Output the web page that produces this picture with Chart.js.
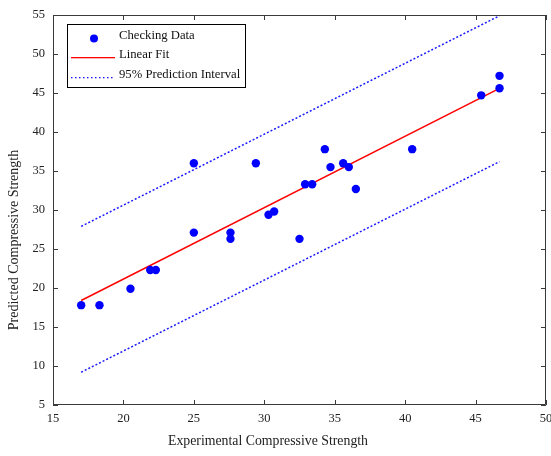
<!DOCTYPE html>
<html>
<head>
<meta charset="utf-8">
<script src="https://cdn.jsdelivr.net/npm/chart.js@4"></script>
<style>
html,body{margin:0;padding:0;background:#fff;}
#wrap{width:551px;height:456px;position:relative;}
</style>
</head>
<body>
<div id="wrap"><canvas id="c" width="551" height="456"></canvas></div>
<script>
// Checking data (experimental, predicted)
const expX = [17.0, 18.3, 20.5, 21.9, 22.3, 25.0, 25.0, 27.6, 27.6, 29.4, 30.3, 30.7, 32.5, 32.9, 33.4, 34.3, 34.7, 35.6, 36.0, 36.5, 40.5, 45.4, 46.7, 46.7];
const predY = [17.8, 17.8, 19.9, 22.3, 22.3, 36.0, 27.1, 27.1, 26.3, 36.0, 29.4, 29.8, 26.3, 33.3, 33.3, 37.8, 35.5, 36.0, 35.5, 32.7, 37.8, 44.7, 45.6, 47.2];
// Linear fit endpoints
const fitX = [17.0, 46.7];
const fitY = [18.4, 45.6];
// 95% prediction interval
const piX = [17.0, 46.7];
const piUpper = [27.9, 54.9];
const piLower = [9.2, 36.2];
const xTicks = [15, 20, 25, 30, 35, 40, 45, 50];
const yTicks = [5, 10, 15, 20, 25, 30, 35, 40, 45, 50, 55];

const labels = ['Checking Data', 'Linear Fit', '95% Prediction Interval'];
const xTitle = 'Experimental Compressive Strength';
const yTitle = 'Predicted Compressive Strength';
const FONT = '"Liberation Serif", "Times New Roman", serif';
const AXC = '#3a3a3a';
const C_PTS = '#0000ff', C_FIT = '#ff0000', C_PI = '#1a1aff';

const toXY = (xs, ys) => xs.map((x, i) => ({x: x, y: ys[i]}));

const boxTicks = {
  id: 'boxTicks',
  afterDraw(chart) {
    const ctx = chart.ctx, a = chart.chartArea;
    const xs = chart.scales.x, ys = chart.scales.y;
    ctx.save();
    ctx.strokeStyle = AXC;
    ctx.lineWidth = 1;
    ctx.beginPath();
    ctx.rect(a.left + 0.5, a.top + 0.5, a.right - a.left - 1, a.bottom - a.top - 1);
    ctx.stroke();
    const L = 5;
    ctx.beginPath();
    xTicks.forEach(v => {
      const p = Math.round(xs.getPixelForValue(v)) + 0.5;
      ctx.moveTo(p, a.bottom); ctx.lineTo(p, a.bottom - L);
      ctx.moveTo(p, a.top); ctx.lineTo(p, a.top + L);
    });
    yTicks.forEach(v => {
      const p = Math.round(ys.getPixelForValue(v)) + 0.5;
      ctx.moveTo(a.left, p); ctx.lineTo(a.left + L, p);
      ctx.moveTo(a.right, p); ctx.lineTo(a.right - L, p);
    });
    ctx.stroke();

    // axis titles
    ctx.fillStyle = '#222';
    ctx.font = '13.8px ' + FONT;
    ctx.textAlign = 'center';
    ctx.textBaseline = 'middle';
    ctx.fillText(xTitle, 268, 441);
    ctx.save();
    ctx.translate(14, 240);
    ctx.rotate(-Math.PI / 2);
    ctx.font = '14px ' + FONT;
    ctx.fillText(yTitle, 0, 0);
    ctx.restore();

    // legend box
    const lx = 67.5, ly = 24.5, lw = 178, lh = 63;
    ctx.fillStyle = '#fff';
    ctx.fillRect(lx, ly, lw, lh);
    ctx.strokeStyle = '#000';
    ctx.lineWidth = 1;
    ctx.strokeRect(lx, ly, lw, lh);
    ctx.font = '12.7px ' + FONT;
    ctx.textBaseline = 'middle';
    ctx.textAlign = 'left';
    // row 1: marker
    ctx.beginPath();
    ctx.fillStyle = C_PTS;
    ctx.arc(94, 38.5, 4, 0, Math.PI * 2);
    ctx.fill();
    // row 2: red line
    ctx.fillStyle = C_FIT;
    ctx.fillRect(71, 57, 44, 1.3);
    // row 3: dotted blue line
    ctx.fillStyle = C_PI;
    for (let x = 71; x < 115; x += 4) ctx.fillRect(x, 77, 1.5, 1.3);
    ctx.fillStyle = '#111';
    ctx.fillText(labels[0], 119, 36);
    ctx.fillText(labels[1], 119, 55);
    ctx.fillText(labels[2], 119, 75);
    ctx.restore();
  }
};

new Chart(document.getElementById('c'), {
  type: 'scatter',
  data: {
    datasets: [
      {label: labels[0], data: toXY(expX, predY), backgroundColor: C_PTS, borderColor: C_PTS, pointRadius: 4.2, pointBorderWidth: 0, showLine: false, order: 0},
      {label: labels[1], data: toXY(fitX, fitY), borderColor: C_FIT, borderWidth: 1.5, pointRadius: 0, showLine: true, order: 1},
      {label: labels[2], data: toXY(piX, piUpper), borderColor: C_PI, borderWidth: 1.5, borderDash: [2, 2], pointRadius: 0, showLine: true, order: 2},
      {label: labels[2] + ' ', data: toXY(piX, piLower), borderColor: C_PI, borderWidth: 1.5, borderDash: [2, 2], pointRadius: 0, showLine: true, order: 2}
    ]
  },
  options: {
    responsive: false,
    animation: false,
    devicePixelRatio: 1,
    layout: {padding: {top: 15, right: 5, left: 0, bottom: 0}},
    plugins: {legend: {display: false}, tooltip: {enabled: false}},
    scales: {
      x: {
        type: 'linear', min: 15, max: 50,
        afterBuildTicks: s => { s.ticks = xTicks.map(v => ({value: v})); },
        afterFit: s => { s.height = 51; s.paddingLeft = 0; s.paddingRight = 0; },
        grid: {display: false, drawTicks: false},
        border: {display: false},
        ticks: {padding: 6, color: '#222', font: {family: FONT, size: 12.5}, maxRotation: 0},
        title: {display: false}
      },
      y: {
        type: 'linear', min: 5, max: 55,
        afterBuildTicks: s => { s.ticks = yTicks.map(v => ({value: v})); },
        afterFit: s => { s.width = 53; s.paddingTop = 0; s.paddingBottom = 0; },
        grid: {display: false, drawTicks: false},
        border: {display: false},
        ticks: {padding: 8, color: '#222', font: {family: FONT, size: 12.5}},
        title: {display: false}
      }
    }
  },
  plugins: [boxTicks]
});
</script>
</body>
</html>
